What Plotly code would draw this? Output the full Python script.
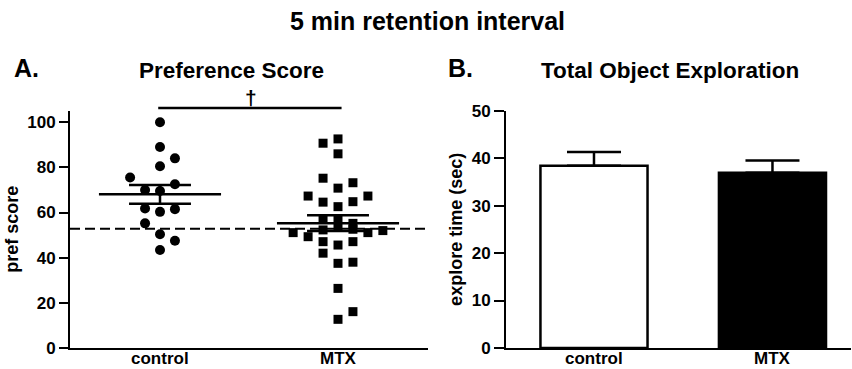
import numpy as np
import plotly.graph_objects as go

# ---------------- data ----------------
groups = ["control", "MTX"]

# Panel A: individual preference scores (beeswarm slot = horizontal column index)
control_scores = [100, 89, 84, 80.5, 75.5, 70, 69.5, 72.5, 61.8, 60.3, 61.5, 55.2, 50.4, 47.5, 43.4]
control_slots  = [0, 0, 1, 0, -2, -1, 0, 1, -1, 0, 1, -1, 0, 1, 0]
mtx_scores = [92.6, 90.7, 86, 75.2, 73.2, 70.8, 67.3, 67.3, 64.6, 64.8, 62.6, 57, 57, 55.2,
              51.1, 49.3, 52.3, 53.5, 52.6, 51.1, 52, 47.1, 45.6, 47.1, 42, 37.5, 38, 26.4, 16.1, 12.7]
mtx_slots  = [0, -1, 0, -1, 1, 0, -2, 2, -1, 1, 0, -1, 0, 1,
              -3, -2, -1, 0, 1, 2, 3, -1, 0, 1, -1, 0, 1, 0, 1, 0]
chance_level = 52.8
sig_level = 106.3
sig_symbol = "†"

# Panel B: total object exploration (mean, SEM)
explore_mean = [38.4, 36.9]
explore_sem = [2.9, 2.6]

# ---------------- styling ----------------
FONT = "Liberation Sans, Arial, sans-serif"
BLACK = "#000000"
slot_w = 0.084
ya_max = 105.1

fig = go.Figure()

# Panel A scatter
fig.add_trace(go.Scatter(
    x=[0 + s * slot_w for s in control_slots], y=control_scores, mode="markers",
    marker=dict(symbol="circle", size=10, color=BLACK), xaxis="x", yaxis="y",
    showlegend=False, cliponaxis=False))
fig.add_trace(go.Scatter(
    x=[1 + s * slot_w for s in mtx_slots], y=mtx_scores, mode="markers",
    marker=dict(symbol="square", size=9, color=BLACK), xaxis="x", yaxis="y",
    showlegend=False, cliponaxis=False))

shapes = []
for i, vals in enumerate([control_scores, mtx_scores]):
    v = np.array(vals, dtype=float)
    m = v.mean()
    sem = v.std(ddof=1) / np.sqrt(len(v))
    shapes.append(dict(type="line", xref="x", yref="y", x0=i - 0.343, x1=i + 0.343, y0=m, y1=m,
                       line=dict(color=BLACK, width=2.5)))
    for yy in (m - sem, m + sem):
        shapes.append(dict(type="line", xref="x", yref="y", x0=i - 0.174, x1=i + 0.174, y0=yy, y1=yy,
                           line=dict(color=BLACK, width=2.5)))
    shapes.append(dict(type="line", xref="x", yref="y", x0=i, x1=i, y0=m - sem, y1=m + sem,
                       line=dict(color=BLACK, width=2.5)))

# chance line
shapes.append(dict(type="line", xref="x domain", yref="y", x0=0, x1=1, y0=chance_level, y1=chance_level,
                   line=dict(color=BLACK, width=2, dash="10px,5px")))
# significance bar
shapes.append(dict(type="line", xref="x", yref="y domain", x0=-0.01, x1=1.02,
                   y0=sig_level / ya_max, y1=sig_level / ya_max,
                   line=dict(color=BLACK, width=2.5)))

# Panel B bars
fig.add_trace(go.Bar(
    x=[0, 1], y=explore_mean, width=0.6, xaxis="x2", yaxis="y2", showlegend=False,
    marker=dict(color=["#ffffff", BLACK], line=dict(color=BLACK, width=2.5)),
    error_y=dict(type="data", array=explore_sem, arrayminus=[0, 0], symmetric=False,
                 color=BLACK, thickness=2.5, width=27)))

tickfont = dict(family=FONT, size=17, color=BLACK, weight="bold")
titlefont = dict(family=FONT, size=18, color=BLACK, weight="bold")

axis_common = dict(showgrid=False, zeroline=False, showline=True, linecolor=BLACK, linewidth=2,
                   automargin=False)

# category labels under each panel (placed as annotations so they stay inside the frame)
cat_labels = []
for xr in ("x", "x2"):
    for i, g in enumerate(groups):
        cat_labels.append(dict(text=g, xref=xr, yref="paper", x=i, y=0, xanchor="center", yanchor="bottom",
                               showarrow=False, font=tickfont, yshift=-1))

fig.update_layout(
    template="none",
    width=852, height=369,
    margin=dict(l=0, r=0, t=0, b=0),
    paper_bgcolor="white", plot_bgcolor="white",
    font=dict(family=FONT, color=BLACK),
    xaxis=dict(domain=[70 / 852, 428 / 852], range=[-0.5056, 1.5056], tickvals=[0, 1],
               showticklabels=False, ticks="", **axis_common),
    yaxis=dict(domain=[1 - 348 / 369, 1 - 110.7 / 369], range=[0, ya_max], tickvals=[0, 20, 40, 60, 80, 100],
               ticks="outside", ticklen=9, tickwidth=2, tickcolor=BLACK, tickfont=tickfont,
               title=dict(text="pref score", font=titlefont, standoff=4), **axis_common),
    xaxis2=dict(domain=[506 / 852, 851 / 852], range=[-0.493, 1.44], tickvals=[0, 1],
                showticklabels=False, ticks="", anchor="y2", **axis_common),
    yaxis2=dict(domain=[1 - 348 / 369, 1 - 110.7 / 369], range=[0, 50], tickvals=[0, 10, 20, 30, 40, 50],
                ticks="outside", ticklen=10, tickwidth=2, tickcolor=BLACK, tickfont=tickfont, anchor="x2",
                title=dict(text="explore time (sec)", font=titlefont, standoff=4), **axis_common),
    shapes=shapes,
    annotations=[
        dict(text="5 min retention interval", xref="paper", yref="paper", x=0.502, y=1 - 21 / 369,
             xanchor="center", yanchor="middle", showarrow=False,
             font=dict(family=FONT, size=25, color=BLACK, weight="bold")),
        dict(text="A.", xref="paper", yref="paper", x=12 / 852, y=1 - 68 / 369,
             xanchor="left", yanchor="middle", showarrow=False,
             font=dict(family=FONT, size=25, color=BLACK, weight="bold")),
        dict(text="Preference Score", xref="paper", yref="paper", x=137 / 852, y=1 - 70 / 369,
             xanchor="left", yanchor="middle", showarrow=False,
             font=dict(family=FONT, size=22.5, color=BLACK, weight="bold")),
        dict(text="B.", xref="paper", yref="paper", x=446 / 852, y=1 - 68 / 369,
             xanchor="left", yanchor="middle", showarrow=False,
             font=dict(family=FONT, size=25, color=BLACK, weight="bold")),
        dict(text="Total Object Exploration", xref="paper", yref="paper", x=539 / 852, y=1 - 70 / 369,
             xanchor="left", yanchor="middle", showarrow=False,
             font=dict(family=FONT, size=22.5, color=BLACK, weight="bold")),
        dict(text=sig_symbol, xref="x", yref="y domain", x=0.51, y=sig_level / ya_max,
             xanchor="center", yanchor="bottom", showarrow=False, yshift=-3,
             font=dict(family=FONT, size=21, color=BLACK, weight="bold")),
    ] + cat_labels,
)

fig.write_html(
    "out.html",
    config={"displayModeBar": False},
    post_script="document.body.style.margin='0';document.body.style.overflow='hidden';",
)
